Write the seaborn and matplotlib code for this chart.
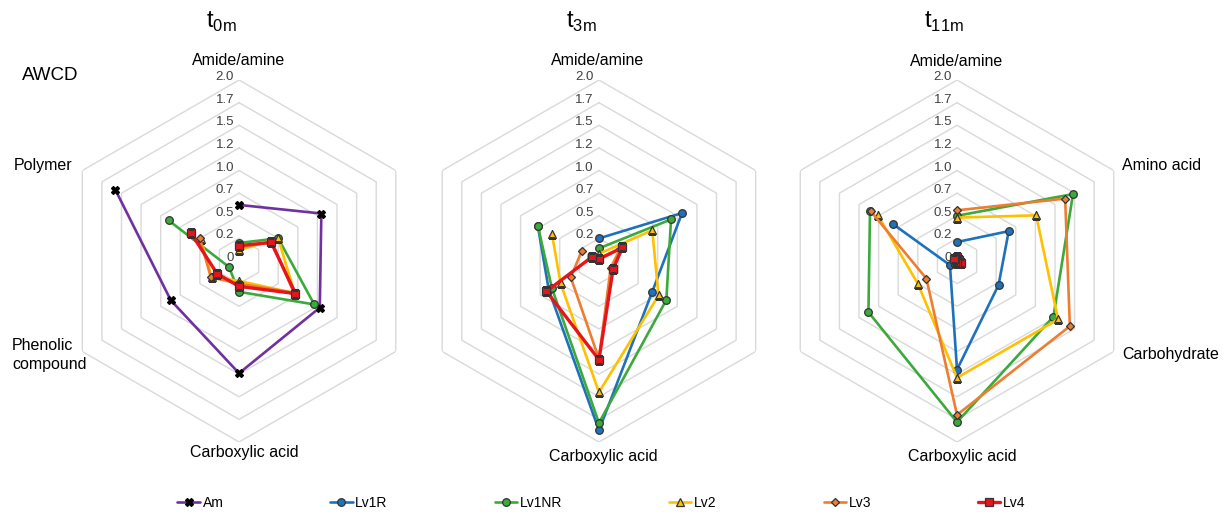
import numpy as np
import matplotlib
matplotlib.use("Agg")
import matplotlib.pyplot as plt
import matplotlib.transforms as mtransforms
from matplotlib.lines import Line2D
import seaborn as sns

sns.set_theme(style="white")
plt.rcParams['font.family'] = ['Liberation Sans', 'DejaVu Sans']
plt.rcParams['text.color'] = 'black'

# ---- data ----
categories = ["Amide/amine", "Amino acid", "Carbohydrate",
              "Carboxylic acid", "Phenolic compound", "Polymer"]
series_names = ["Am", "Lv1R", "Lv1NR", "Lv2", "Lv3", "Lv4"]
panel_titles = ["0m", "3m", "11m"]
ring_values = [0.25, 0.5, 0.75, 1.0, 1.25, 1.5, 1.75, 2.0]
tick_values = [0, 0.25, 0.5, 0.75, 1.0, 1.25, 1.5, 1.75, 2.0]
tick_labels = ["0", "0.2", "0.5", "0.7", "1.0", "1.2", "1.5", "1.7", "2.0"]

# t0m
am_t0 = [0.62, 1.05, 1.03, 1.24, 0.87, 1.58]
lv1nr_t0 = [0.20, 0.50, 0.96, 0.34, 0.13, 0.90]
lv2_t0 = [0.12, 0.50, 0.71, 0.22, 0.35, 0.49]
lv3_t0 = [0.15, 0.42, 0.70, 0.25, 0.36, 0.50]
lv4_t0 = [0.17, 0.41, 0.72, 0.28, 0.28, 0.61]
# t3m
lv1r_t3 = [0.25, 1.06, 0.68, 1.87, 0.64, 0.78]
lv1nr_t3 = [0.14, 0.92, 0.86, 1.79, 0.60, 0.78]
lv2_t3 = [0.08, 0.68, 0.76, 1.45, 0.49, 0.60]
lv3_t3 = [0.03, 0.27, 0.15, 1.08, 0.36, 0.22]
lv4_t3 = [0.02, 0.30, 0.18, 1.09, 0.67, 0.09]
# t11m
lv1r_t11 = [0.21, 0.66, 0.53, 1.20, 0.09, 0.82]
lv1nr_t11 = [0.50, 1.48, 1.23, 1.78, 1.13, 1.11]
lv2_t11 = [0.48, 1.01, 1.29, 1.29, 0.50, 1.01]
lv3_t11 = [0.56, 1.38, 1.44, 1.70, 0.39, 1.10]
lv4_t11 = [0.04, 0.03, 0.05, 0.02, 0.03, 0.04]

panels = [
    {"Am": am_t0, "Lv1NR": lv1nr_t0, "Lv2": lv2_t0, "Lv3": lv3_t0, "Lv4": lv4_t0},
    {"Lv1R": lv1r_t3, "Lv1NR": lv1nr_t3, "Lv2": lv2_t3, "Lv3": lv3_t3, "Lv4": lv4_t3},
    {"Lv1R": lv1r_t11, "Lv1NR": lv1nr_t11, "Lv2": lv2_t11, "Lv3": lv3_t11, "Lv4": lv4_t11},
]

# ---- styles ----
styles = {
    "Am": dict(color="#7030A0", marker="X", ms=5.5, mfc="black", mec="black", lw=1.9),
    "Lv1R": dict(color="#1F72BA", marker="o", ms=5.5, mfc="#1F72BA", mec="#333333", lw=1.9),
    "Lv1NR": dict(color="#3BAA3B", marker="o", ms=5.5, mfc="#3BAA3B", mec="#333333", lw=1.9),
    "Lv2": dict(color="#FFC000", marker="^", ms=5.5, mfc="#FFC000", mec="#333333", lw=1.9),
    "Lv3": dict(color="#ED7D31", marker="D", ms=3.8, mfc="#ED7D31", mec="#333333", lw=1.9),
    "Lv4": dict(color="#E8141B", marker="s", ms=5.5, mfc="#E8141B", mec="#333333", lw=2.4),
}

# category labels shown per panel (axes-fraction position, alignment)
label_layout = [
    [(0, 0.5, 1.055, "center"), (5, 0.039, 0.765, "right"),
     (4, -0.127, 0.24, "left"), (3, 0.514, -0.028, "center")],
    [(0, 0.497, 1.055, "center"), (3, 0.511, -0.041, "center")],
    [(0, 0.5, 1.05, "center"), (1, 0.956, 0.765, "left"),
     (2, 0.956, 0.243, "left"), (3, 0.514, -0.041, "center")],
]

fig = plt.figure(figsize=(12.3, 5.15), dpi=100)

n = len(categories)
theta = np.linspace(0, 2 * np.pi, n, endpoint=False)
theta_closed = np.append(theta, theta[0])

ax_w, ax_h = 0.2943, 0.7029
lefts = [0.0472, 0.3398, 0.6309]

for i, data in enumerate(panels):
    ax = fig.add_axes([lefts[i], 0.1417, ax_w, ax_h], projection="polar")
    ax.set_theta_offset(np.pi / 2)
    ax.set_theta_direction(-1)
    ax.set_ylim(0, 2)
    ax.grid(False)
    ax.spines["polar"].set_visible(False)
    ax.set_xticks([])
    ax.set_yticks([])
    ax.patch.set_alpha(0)

    # hexagonal grid
    for r in ring_values:
        ax.plot(theta_closed, [r] * (n + 1), color="#D9D9D9", lw=1.0, zorder=0)

    # radial tick labels along the top axis
    off = mtransforms.offset_copy(ax.transData, fig=fig, x=-5, y=3, units="dots")
    for v, lab in zip(tick_values, tick_labels):
        ax.text(0, v, lab, transform=off, ha="right", va="center",
                fontsize=9.5, color="#404040", zorder=1)

    for name in series_names:
        if name not in data:
            continue
        vals = data[name]
        st = styles[name]
        sns.lineplot(x=theta_closed, y=vals + vals[:1], sort=False, ax=ax,
                     color=st["color"], lw=st["lw"], marker=st["marker"],
                     markersize=st["ms"], markerfacecolor=st["mfc"],
                     markeredgecolor=st["mec"], markeredgewidth=0.9,
                     zorder=3)
    ax.set_xlabel("")
    ax.set_ylabel("")
    if ax.get_legend() is not None:
        ax.get_legend().remove()

    for idx, x, y, ha in label_layout[i]:
        txt = categories[idx]
        if idx == 4:
            txt = "Phenolic\ncompound"
        ax.text(x, y, txt, transform=ax.transAxes, ha=ha, va="center",
                fontsize=11.5, color="black", linespacing=1.3)

    ax.text(0.409, 1.16, "t$_{\\mathregular{" + panel_titles[i] + "}}$",
            transform=ax.transAxes, ha="left", va="center", fontsize=17,
            color="black")

fig.text(0.018, 0.854, "AWCD", fontsize=13.5, ha="left", va="center",
         color="black")

handles = []
for name in series_names:
    st = styles[name]
    handles.append(Line2D([0], [0], color=st["color"], lw=st["lw"],
                          marker=st["marker"], markersize=st["ms"],
                          markerfacecolor=st["mfc"], markeredgecolor=st["mec"],
                          markeredgewidth=0.9))
leg = fig.legend(handles, series_names, loc="center", bbox_to_anchor=(0.489, 0.023),
                 ncol=6, frameon=False, fontsize=10, handlelength=1.6,
                 handletextpad=0.2, columnspacing=7.7)
for t in leg.get_texts():
    t.set_color("black")

fig.savefig("out.png", dpi=100)
